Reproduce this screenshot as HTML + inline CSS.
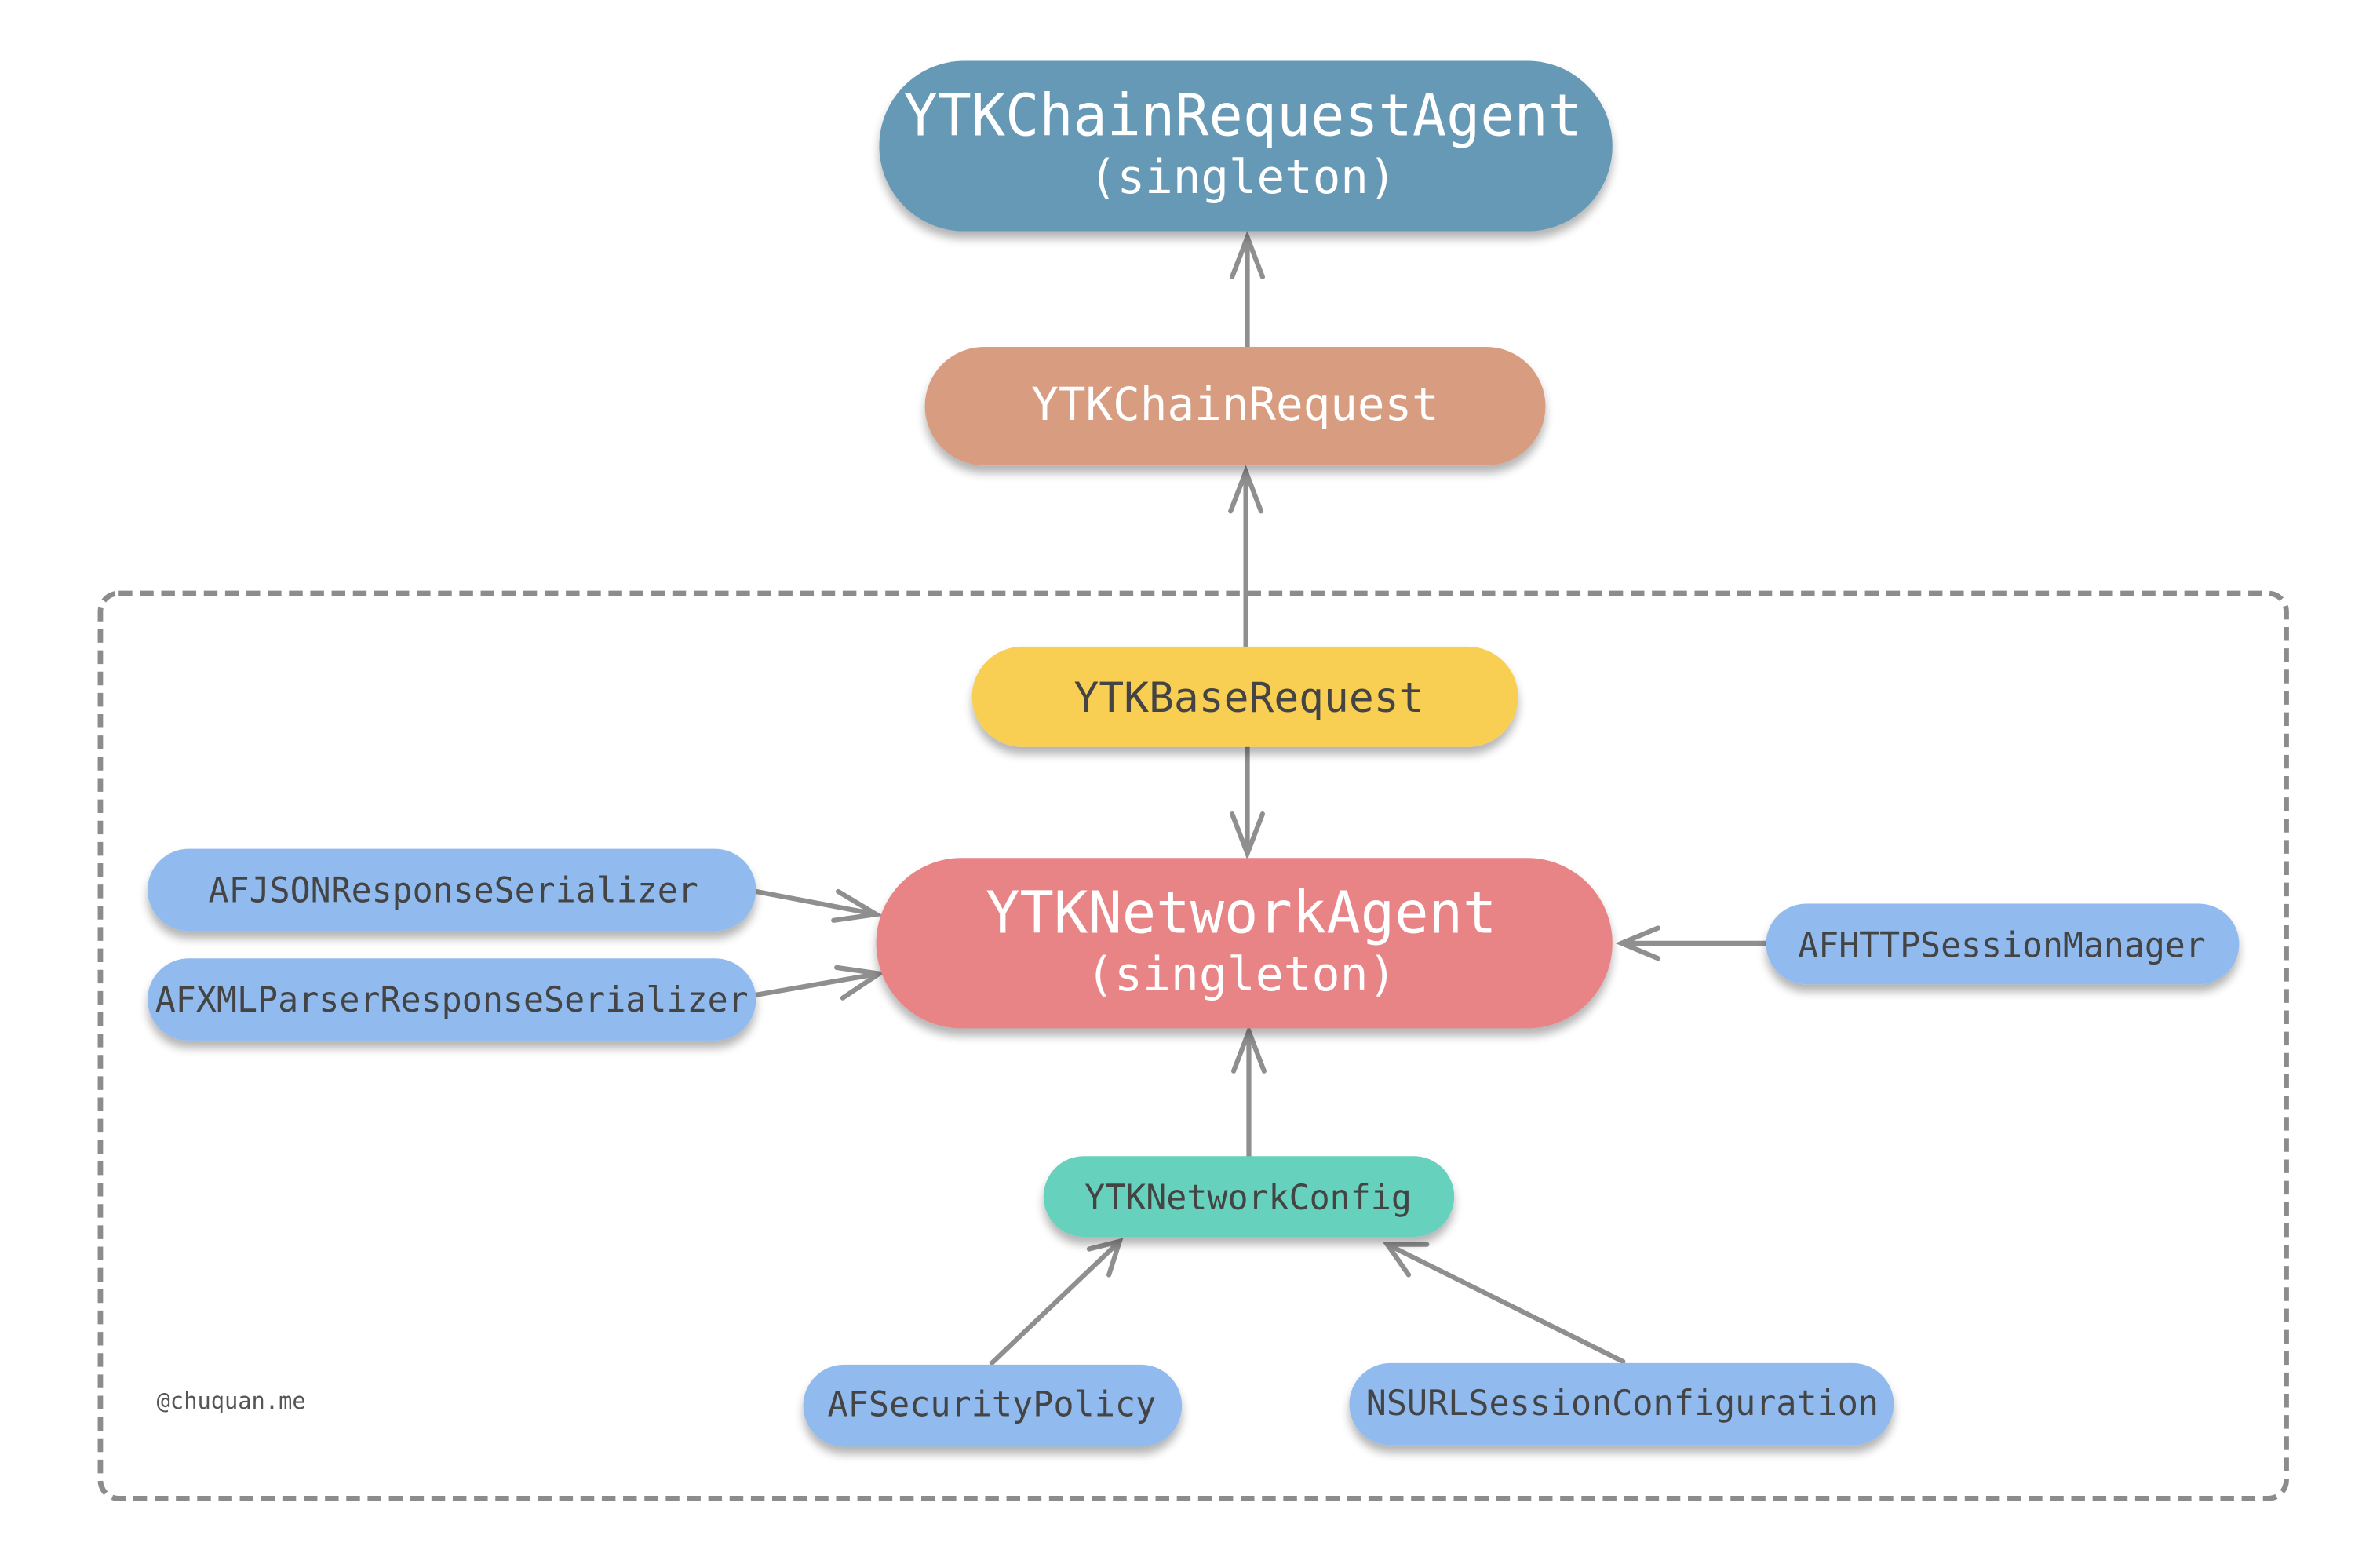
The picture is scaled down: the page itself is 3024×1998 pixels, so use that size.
<!DOCTYPE html>
<html><head><meta charset="utf-8"><style>html,body{margin:0;padding:0;background:#fff}svg{display:block}</style></head>
<body>
<svg width="3024" height="1998" viewBox="0 0 1560 1030.7" preserveAspectRatio="none" xmlns="http://www.w3.org/2000/svg">
<defs>
<filter id="sh" x="-10%" y="-20%" width="120%" height="160%">
<feGaussianBlur in="SourceAlpha" stdDeviation="3"/><feOffset dx="0" dy="5" result="b"/>
<feComponentTransfer><feFuncA type="linear" slope="0.3"/></feComponentTransfer>
<feMerge><feMergeNode/><feMergeNode in="SourceGraphic"/></feMerge></filter>
</defs>
<rect x="66" y="390" width="1437" height="595" rx="12" fill="none" stroke="#8c8c8c" stroke-width="3.5" stroke-dasharray="9,5"/>
<g stroke="#8f8f8f" stroke-width="3.2" fill="none" stroke-linecap="round">
<line x1="820" y1="228" x2="820" y2="156"/><polyline points="810,182 820,156 830,182"/>
<line x1="819" y1="425" x2="819" y2="310"/><polyline points="809,336 819,310 829,336"/>
<line x1="820" y1="491" x2="820" y2="561"/><polyline points="810,535 820,561 830,535"/>
<line x1="497" y1="586" x2="576" y2="601"/><polyline points="551,586 576,601 548,605"/>
<line x1="497" y1="654" x2="578" y2="640"/><polyline points="550,636 578,640 554,656"/>
<line x1="1161" y1="620" x2="1066" y2="620"/><polyline points="1090,610 1066,620 1090,630"/>
<line x1="821" y1="760" x2="821" y2="678"/><polyline points="811,704 821,678 831,704"/>
<line x1="652" y1="896" x2="736" y2="816"/><polyline points="716,821 736,816 729,838"/>
<line x1="1067" y1="895" x2="912" y2="818"/><polyline points="938,818 912,818 926,838"/>
</g>
<g filter="url(#sh)">
<rect x="578" y="40" width="482" height="112" rx="56" fill="#6699b5"/>
<rect x="608" y="228" width="408" height="78" rx="39" fill="#d89c80"/>
<rect x="639" y="425" width="359" height="66" rx="33" fill="#f8cf52"/>
<rect x="576" y="564" width="484" height="112" rx="56" fill="#e88486"/>
<rect x="97" y="558" width="400" height="54" rx="27" fill="#91bbee"/>
<rect x="97" y="630" width="400" height="54" rx="27" fill="#91bbee"/>
<rect x="1161" y="594" width="311" height="53" rx="26.5" fill="#91bbee"/>
<rect x="686" y="760" width="270" height="53" rx="26.5" fill="#66d1bc"/>
<rect x="528" y="897" width="249" height="54" rx="27" fill="#91bbee"/>
<rect x="887" y="896" width="358" height="54" rx="27" fill="#91bbee"/>
</g>
<g font-family="'DejaVu Sans Mono','Liberation Mono',monospace" lengthAdjust="spacingAndGlyphs">
<text x="594" y="89" font-size="38" fill="#fff" textLength="446" lengthAdjust="spacingAndGlyphs">YTKChainRequestAgent</text>
<text x="716" y="127" font-size="31" fill="#fff" textLength="202" lengthAdjust="spacingAndGlyphs">(singleton)</text>
<text x="678" y="276" font-size="30" fill="#fff" textLength="268" lengthAdjust="spacingAndGlyphs">YTKChainRequest</text>
<text x="706" y="468" font-size="27" fill="#444" textLength="230" lengthAdjust="spacingAndGlyphs">YTKBaseRequest</text>
<text x="648" y="613" font-size="38" fill="#fff" textLength="336" lengthAdjust="spacingAndGlyphs">YTKNetworkAgent</text>
<text x="714" y="651" font-size="31" fill="#fff" textLength="204" lengthAdjust="spacingAndGlyphs">(singleton)</text>
<text x="137" y="593" font-size="23" fill="#444" textLength="322" lengthAdjust="spacingAndGlyphs">AFJSONResponseSerializer</text>
<text x="102" y="665" font-size="23" fill="#444" textLength="390" lengthAdjust="spacingAndGlyphs">AFXMLParserResponseSerializer</text>
<text x="1182" y="629" font-size="23" fill="#444" textLength="268" lengthAdjust="spacingAndGlyphs">AFHTTPSessionManager</text>
<text x="713" y="795" font-size="23" fill="#444" textLength="215" lengthAdjust="spacingAndGlyphs">YTKNetworkConfig</text>
<text x="544" y="931" font-size="23" fill="#444" textLength="216" lengthAdjust="spacingAndGlyphs">AFSecurityPolicy</text>
<text x="898" y="930" font-size="23" fill="#444" textLength="337" lengthAdjust="spacingAndGlyphs">NSURLSessionConfiguration</text>
<text x="103" y="926" font-size="15" fill="#555" textLength="98" lengthAdjust="spacingAndGlyphs">@chuquan.me</text>
</g>
</svg>
</body></html>
